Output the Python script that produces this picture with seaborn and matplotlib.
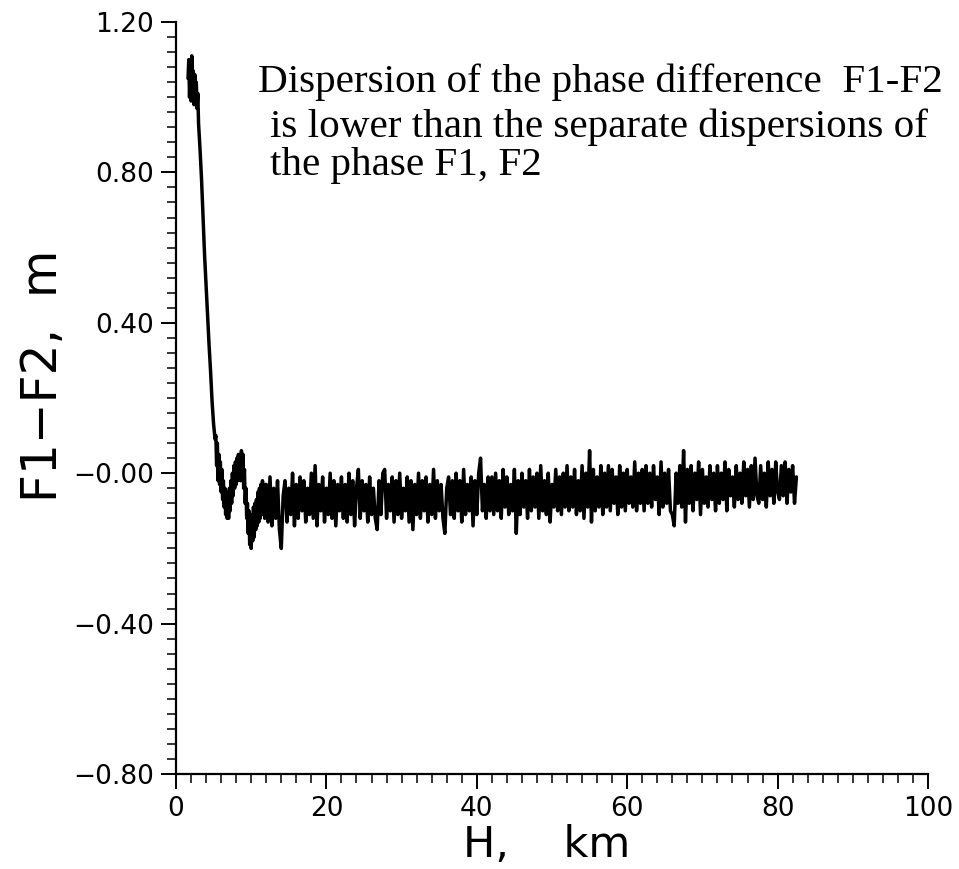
import numpy as np
import pandas as pd
import matplotlib
matplotlib.use("Agg")
import matplotlib.pyplot as plt
from matplotlib.ticker import MultipleLocator
import seaborn as sns

# ---- data ----
# early part: height H (km) and F1-F2 (m)
h_early = [1.6, 1.7, 1.8, 1.9, 2.0, 2.1, 2.2, 2.3, 2.4, 2.5, 2.6, 2.7, 2.8, 2.9,
           3.0, 3.2, 3.4, 3.6, 3.8, 4.0, 4.2, 4.4, 4.6, 4.8, 5.0, 5.2,
           5.3, 5.4, 5.5, 5.6, 5.7, 5.8, 5.9, 6.0, 6.1, 6.2, 6.3, 6.4, 6.5, 6.6,
           6.7, 6.8, 6.9, 7.0, 7.1, 7.2, 7.3, 7.4, 7.5, 7.6, 7.7, 7.8, 7.9, 8.0,
           8.1, 8.2, 8.3, 8.4, 8.5, 8.6, 8.7, 8.8, 8.9, 9.0, 9.1, 9.2, 9.3, 9.4,
           9.5, 9.6, 9.7, 9.8, 9.9, 10.0, 10.1, 10.2, 10.3, 10.4, 10.5, 10.6,
           10.7, 10.8, 10.9, 11.0, 11.1, 11.2, 11.3, 11.4, 11.5, 11.6, 11.7,
           11.8, 11.9]
f_early = [1.05, 1.10, 1.00, 1.08, 0.99, 1.11, 1.02, 1.07, 0.98, 1.06, 1.00, 1.04, 0.97, 1.01,
           0.93, 0.86, 0.78, 0.68, 0.58, 0.50, 0.42, 0.34, 0.27, 0.19, 0.13, 0.09,
           0.10, 0.02, 0.08, -0.02, 0.05, -0.03, 0.03, -0.05, 0.01, -0.07, -0.02, -0.09, -0.04, -0.11,
           -0.05, -0.12, -0.06, -0.12, -0.04, -0.10, -0.02, -0.08, 0.00, -0.06, 0.02, -0.04, 0.03, -0.03,
           0.04, -0.02, 0.05, -0.01, 0.04, -0.02, 0.06, 0.00, 0.05, -0.04, 0.01, -0.08, -0.04, -0.12,
           -0.08, -0.16, -0.10, -0.19, -0.12, -0.20, -0.11, -0.18, -0.09, -0.17, -0.08, -0.15,
           -0.07, -0.14, -0.05, -0.13, -0.04, -0.12, -0.03, -0.11, -0.02, -0.10, -0.04,
           -0.12, -0.03]

# noisy part: samples every 0.25 km starting at 12 km, values in cm
h_noise_start = 12.0
h_noise_step = 0.25
f_noise_cm = [
    -3, -13, -1, -14, -4, -12, -2, -15, -20, -6, -2, -13, -4, -11, 0, -14, -3, -12, -1, -10,
    -2, -13, -4, -11, 0, -12, 2, -14, -3, -10, -1, -13, -4, -11, 0, -12, -2, -14, -3, -10,
    -1, -12, -3, -13, 0, -11, -2, -14, -4, 1, -12, -2, -10, -3, -13, -1, -11, -4, -12, -15,
    -2, -11, 0, 1, -12, -3, -10, -1, -13, -2, -11, 0, -12, -4, -10, -1, -13, -2, -15, -3,
    -11, 0, -12, -2, -10, -1, -13, -3, -11, 1, -12, -2, -10, -3, -12, -16, -4, -1, -11, -2,
    -12, 0, -10, -2, -13, 1, -11, -3, -10, -1, -14, -2, -11, 0, 4, -10, -3, -12, -1, -10,
    -1, -11, 0, -10, -2, -12, 1, -9, -1, -11, -3, -10, 1, -16, -2, -11, 0, -9, -2, -12,
    1, -10, -1, -9, 0, -12, 2, -10, -2, -11, 0, -13, -3, -9, 1, -10, -1, -11, 0, -9,
    2, -10, -1, -9, 1, -11, -2, -10, 2, -12, 0, -9, 6, -13, 1, -10, -1, -9, 2, -11,
    0, -9, 2, -10, 1, -8, -1, -11, 2, -9, 0, -10, 1, -8, -1, -9, 3, -10, 0, -8,
    1, -10, 2, -8, 0, -9, 2, -7, -1, -11, 3, -9, 0, -8, 1, -10, -11, -14, 0, -8,
    2, -9, 6, -13, 1, -8, 2, -10, 0, -7, 3, -11, 1, -8, -1, -9, 2, -7, 0, -10,
    2, -8, 0, -7, 3, -10, 1, -6, -1, -9, 2, -7, 0, -8, 3, -6, 1, -9, 2, -7,
    4, -6, -8, 2, -7, 0, -9, 3, -6, 1, -8, 3, -5, -7, 2, -6, 3, -8, 1, -5,
    2, -8, -1,
]

y_ticks = [-0.80, -0.40, 0.00, 0.40, 0.80, 1.20]
y_ticklabels = ["\u22120.80", "\u22120.40", "\u22120.00", "0.40", "0.80", "1.20"]
x_ticks = [0, 20, 40, 60, 80, 100]
x_ticklabels = ["0", "20", "40", "60", "80", "100"]

note_lines = ["Dispersion of the phase difference  F1-F2",
              "is lower than the separate dispersions of",
              "the phase F1, F2"]

# ---- build table ----
h_noise = [h_noise_start + h_noise_step * i for i in range(len(f_noise_cm))]
df = pd.DataFrame({
    "H": list(h_early) + h_noise,
    "F": list(f_early) + [v / 100.0 for v in f_noise_cm],
})

sns.set_theme(style="ticks")
plt.rcParams["font.family"] = ["DejaVu Sans"]

W, Hpx = 959, 869
fig = plt.figure(figsize=(W / 100, Hpx / 100), dpi=100)
ax = fig.add_axes([176 / W, 1 - 774 / Hpx, (928 - 176) / W, (774 - 22) / Hpx])

sns.lineplot(data=df, x="H", y="F", ax=ax, color="black", linewidth=2.5,
             estimator=None, sort=False, legend=False)

ax.set_xlim(0, 100)
ax.set_ylim(-0.8, 1.2)
ax.set_xticks(x_ticks)
ax.set_xticklabels(x_ticklabels)
ax.set_yticks(y_ticks)
ax.set_yticklabels(y_ticklabels)
ax.xaxis.set_minor_locator(MultipleLocator(2))
ax.yaxis.set_minor_locator(MultipleLocator(0.04))

for s in ["top", "right"]:
    ax.spines[s].set_visible(False)
for s in ["left", "bottom"]:
    ax.spines[s].set_linewidth(1.6)
    ax.spines[s].set_color("black")

ax.tick_params(which="major", direction="out", length=11, width=1.4,
               colors="black", labelsize=19, pad=5)
ax.tick_params(which="minor", direction="out", length=6.5, width=1.1, colors="black")

ax.set_xlabel("H,    km", fontsize=31, color="black")
ax.xaxis.set_label_coords(0.493, -0.066)
ax.xaxis.label.set_va("top")
ax.set_ylabel("F1\u2212F2,  m", fontsize=35, color="black")
ax.yaxis.set_label_coords(-0.145, 0.53)

xs = [258, 270, 270]
ys = [92, 137, 175]
for t, xp, yp in zip(note_lines, xs, ys):
    fig.text(xp / W, 1 - yp / Hpx, t, fontsize=29.6, family="Liberation Serif",
             color="black", va="baseline", ha="left")

fig.savefig("out.png", dpi=100, facecolor="white")
